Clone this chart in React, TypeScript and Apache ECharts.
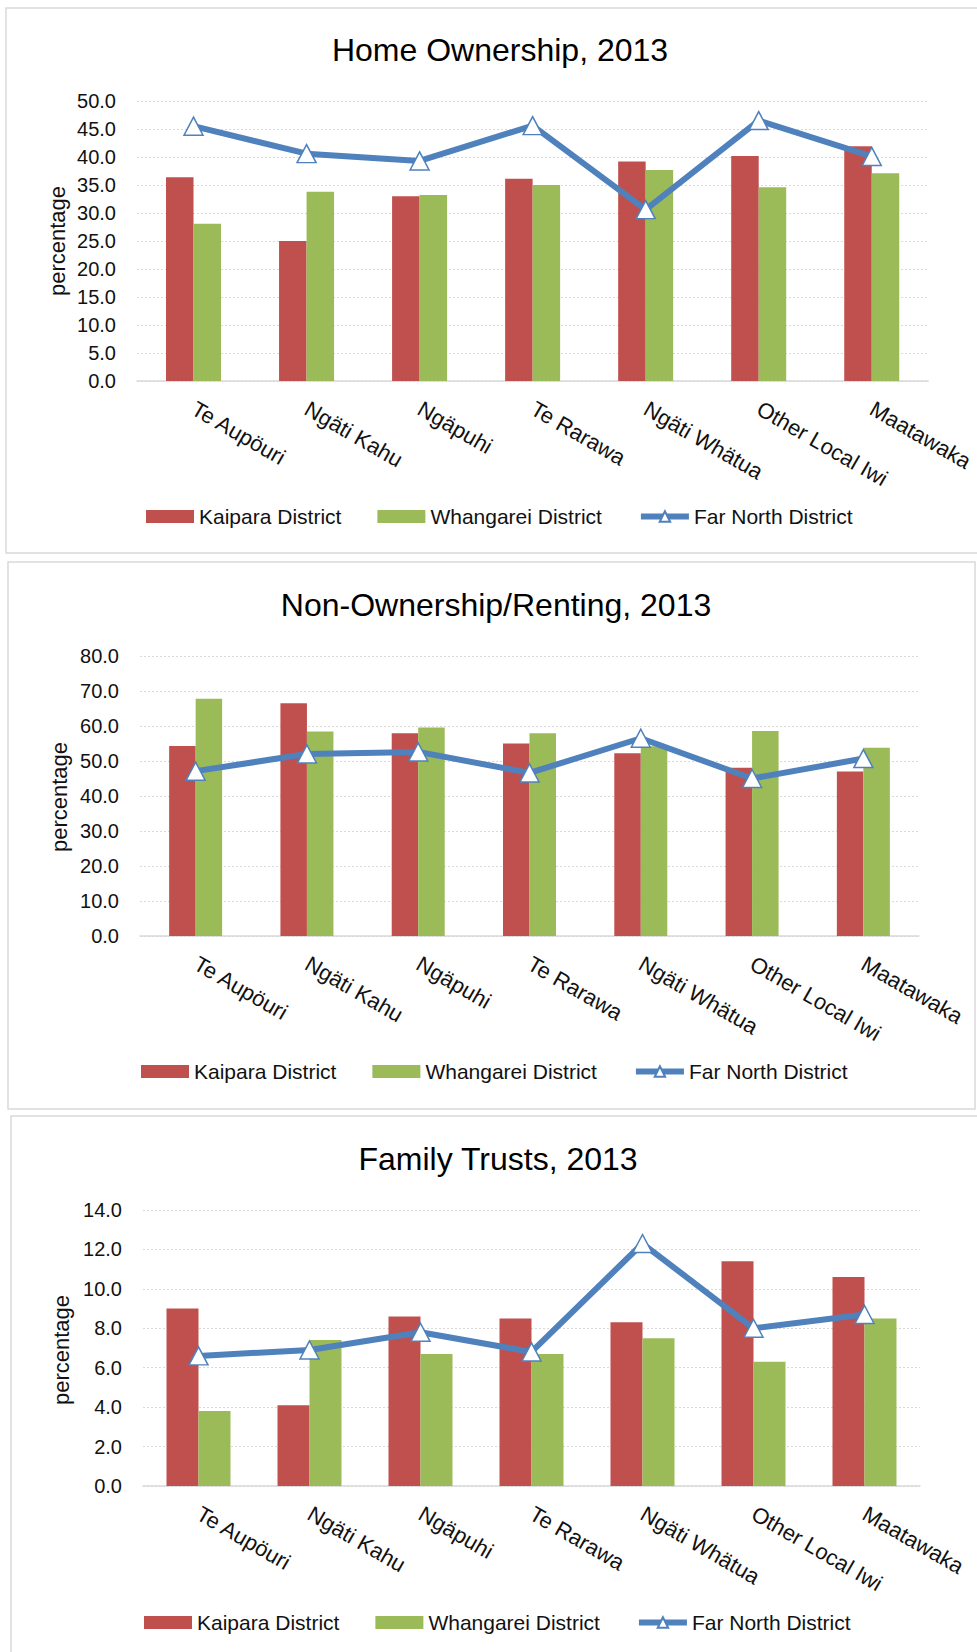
import React, { useEffect, useRef } from 'react';
import * as echarts from 'echarts';

const categories = ['Te Aupöuri', 'Ngäti Kahu', 'Ngäpuhi', 'Te Rarawa', 'Ngäti Whätua', 'Other Local Iwi', 'Maatawaka'];
const seriesNames = ['Kaipara District', 'Whangarei District', 'Far North District'];
const titles = ['Home Ownership, 2013', 'Non-Ownership/Renting, 2013', 'Family Trusts, 2013'];
const axisMax = [50, 80, 14];
const axisInterval = [5, 10, 2];
const yAxisName = 'percentage';

const homeKaipara = [36.4, 25.0, 33.0, 36.1, 39.2, 40.2, 41.9];
const homeWhangarei = [28.1, 33.8, 33.2, 35.0, 37.7, 34.6, 37.1];
const homeFarNorth = [45.5, 40.6, 39.3, 45.6, 30.6, 46.5, 40.1];

const rentKaipara = [54.3, 66.5, 57.9, 55.0, 52.2, 48.1, 47.0];
const rentWhangarei = [67.8, 58.4, 59.6, 57.9, 54.2, 58.6, 53.8];
const rentFarNorth = [47.1, 52.0, 52.6, 46.6, 56.5, 45.0, 50.7];

const trustKaipara = [9.0, 4.1, 8.6, 8.5, 8.3, 11.4, 10.6];
const trustWhangarei = [3.8, 7.4, 6.7, 6.7, 7.5, 6.3, 8.5];
const trustFarNorth = [6.6, 6.9, 7.8, 6.8, 12.3, 8.0, 8.7];

const panelData = [
  [homeKaipara, homeWhangarei, homeFarNorth],
  [rentKaipara, rentWhangarei, rentFarNorth],
  [trustKaipara, trustWhangarei, trustFarNorth],
];

const FONT = 'Liberation Sans';
const RED = '#C0504D';
const GREEN = '#9BBB59';
const BLUE = '#4F81BD';
const GRID_GRAY = '#d9d9d9';

const layout = [
  { box: { x: 6, y: 8, w: 1000, h: 545 }, titleX: 495, titleY: 29, grid: { left: 137, top: 101, width: 795, height: 280 }, barW: 27.5, nameX: 57, nameY: 241, legendLeft: 141, legendTop: 501 },
  { box: { x: 8, y: 562, w: 967, h: 547 }, titleX: 491, titleY: 584, grid: { left: 140, top: 656, width: 779, height: 280 }, barW: 26.5, nameX: 59, nameY: 797, legendLeft: 136, legendTop: 1056 },
  { box: { x: 11, y: 1116, w: 1000, h: 600 }, titleX: 493, titleY: 1138, grid: { left: 143, top: 1210, width: 777, height: 276 }, barW: 32, nameX: 61, nameY: 1350, legendLeft: 139, legendTop: 1607 },
];

export default function App() {
  const ref = useRef<HTMLDivElement>(null);

  useEffect(() => {
    if (!ref.current) return;
    const chart = echarts.init(ref.current, undefined, { renderer: 'svg' });

    const title: any[] = [];
    const grid: any[] = [];
    const xAxis: any[] = [];
    const yAxis: any[] = [];
    const legend: any[] = [];
    const series: any[] = [];
    const graphic: any[] = [];

    layout.forEach((L, i) => {
      graphic.push({
        type: 'rect',
        z: -10,
        shape: { x: L.box.x, y: L.box.y, width: L.box.w, height: L.box.h },
        style: { fill: '#fff', stroke: GRID_GRAY, lineWidth: 1.5 },
      });
      graphic.push({
        type: 'text',
        x: L.nameX,
        y: L.nameY,
        rotation: Math.PI / 2,
        style: {
          text: yAxisName,
          fontFamily: FONT,
          fontSize: 22,
          fill: '#111',
          align: 'center',
          verticalAlign: 'middle',
        },
      });
      title.push({
        text: titles[i],
        left: L.titleX,
        top: L.titleY,
        textAlign: 'center',
        textStyle: { fontFamily: FONT, fontSize: 32, fontWeight: 'normal', color: '#000' },
      });
      grid.push({ ...L.grid, containLabel: false });
      xAxis.push({
        type: 'category',
        gridIndex: i,
        data: categories,
        axisTick: { show: false },
        axisLine: { lineStyle: { color: GRID_GRAY, width: 1.5 } },
        axisLabel: {
          interval: 0,
          rotate: -30,
          margin: 26,
          fontFamily: FONT,
          fontSize: 22,
          color: '#111',
        },
      });
      yAxis.push({
        type: 'value',
        gridIndex: i,
        min: 0,
        max: axisMax[i],
        interval: axisInterval[i],
        axisLine: { show: false },
        axisTick: { show: false },
        splitLine: { lineStyle: { color: GRID_GRAY, type: [2, 2], width: 1 } },
        axisLabel: {
          margin: 21,
          fontFamily: FONT,
          fontSize: 20,
          color: '#111',
          formatter: (v: number) => v.toFixed(1),
        },
      });
      legend.push({
        left: L.legendLeft,
        top: L.legendTop,
        itemWidth: 48,
        itemHeight: 13,
        itemGap: 36,
        selectedMode: false,
        data: [
          { name: seriesNames[0], icon: 'rect' },
          { name: seriesNames[1], icon: 'rect' },
          { name: seriesNames[2], lineStyle: { width: 6, color: BLUE } },
        ],
        textStyle: { fontFamily: FONT, fontSize: 21, color: '#111' },
      });
      const d = panelData[i];
      series.push({
        name: seriesNames[0],
        type: 'bar',
        xAxisIndex: i,
        yAxisIndex: i,
        data: d[0],
        barWidth: L.barW,
        barGap: '0%',
        itemStyle: { color: RED },
      });
      series.push({
        name: seriesNames[1],
        type: 'bar',
        xAxisIndex: i,
        yAxisIndex: i,
        data: d[1],
        barWidth: L.barW,
        barGap: '0%',
        itemStyle: { color: GREEN },
      });
      series.push({
        name: seriesNames[2],
        type: 'line',
        xAxisIndex: i,
        yAxisIndex: i,
        data: d[2],
        symbol: 'triangle',
        symbolSize: [19, 18],
        lineStyle: { color: BLUE, width: 6 },
        itemStyle: { color: '#fff', borderColor: BLUE, borderWidth: 1.5 },
        z: 5,
      });
    });

    chart.setOption({
      animation: false,
      backgroundColor: '#fff',
      title,
      grid,
      xAxis,
      yAxis,
      legend,
      series,
      graphic,
    });

    return () => chart.dispose();
  }, []);

  return (
    <div
      ref={ref}
      style={{ position: 'absolute', left: 0, top: 0, width: 977, height: 1652 }}
    />
  );
}
